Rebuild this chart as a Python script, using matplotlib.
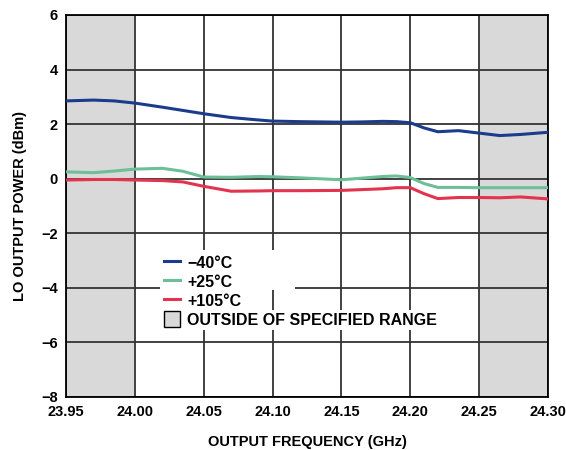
import matplotlib.pyplot as plt
from matplotlib.patches import Patch, Rectangle
from matplotlib.lines import Line2D

plt.rcParams['font.family'] = ['Liberation Sans', 'DejaVu Sans']
plt.rcParams['font.weight'] = 'bold'

freq = [23.95, 23.97, 23.985, 24.00, 24.02, 24.035, 24.05, 24.07, 24.09, 24.10, 24.12, 24.15,
        24.165, 24.18, 24.19, 24.20, 24.21, 24.22, 24.235, 24.25, 24.265, 24.28, 24.30]
t_m40 = [2.85, 2.88, 2.85, 2.77, 2.62, 2.50, 2.38, 2.24, 2.15, 2.11, 2.09, 2.07,
         2.08, 2.10, 2.09, 2.05, 1.86, 1.72, 1.76, 1.67, 1.58, 1.62, 1.70]
t_p25 = [0.25, 0.22, 0.28, 0.35, 0.38, 0.27, 0.06, 0.05, 0.08, 0.07, 0.03, -0.04,
         0.02, 0.08, 0.10, 0.04, -0.18, -0.32, -0.32, -0.33, -0.33, -0.33, -0.33]
t_p105 = [-0.05, -0.03, -0.03, -0.05, -0.07, -0.12, -0.28, -0.46, -0.45, -0.44, -0.44, -0.43,
          -0.40, -0.37, -0.33, -0.33, -0.55, -0.73, -0.69, -0.69, -0.70, -0.67, -0.74]
labels = ['\u221240\u00b0C', '+25\u00b0C', '+105\u00b0C']
colors = ['#1b3c8c', '#6cbf96', '#e2334f']
spec_lo, spec_hi = 24.00, 24.25

fig = plt.figure(figsize=(5.66, 4.5), dpi=100)
ax = fig.add_axes([0.1166, 0.1178, 0.8516, 0.849])

ax.axvspan(23.95, spec_lo, color='#d9d9d9', zorder=0, lw=0)
ax.axvspan(spec_hi, 24.30, color='#d9d9d9', zorder=0, lw=0)

for ys, c in zip([t_m40, t_p25, t_p105], colors):
    ax.plot(freq, ys, color=c, lw=2.2, zorder=3, solid_joinstyle='round')

ax.set_xlim(23.95, 24.30)
ax.set_ylim(-8, 6)
ax.set_xticks([23.95, 24.00, 24.05, 24.10, 24.15, 24.20, 24.25, 24.30])
ax.set_xticklabels(['23.95', '24.00', '24.05', '24.10', '24.15', '24.20', '24.25', '24.30'])
ax.set_yticks(range(-8, 7, 2))
ax.set_yticklabels(['\u22128', '\u22126', '\u22124', '\u22122', '0', '2', '4', '6'])
ax.grid(True, color='#333333', lw=1.3, zorder=1)
ax.set_axisbelow(True)
for s in ax.spines.values():
    s.set_color('black')
    s.set_linewidth(1.3)
ax.tick_params(length=0, labelsize=10.5, pad=6)
ax.set_xlabel('OUTPUT FREQUENCY (GHz)', fontsize=10.5, fontweight='bold', labelpad=11)
ax.set_ylabel('LO OUTPUT POWER (dBm)', fontsize=10.5, fontweight='bold', labelpad=10)

# white patch behind the legend rows (grid hidden there)
ax.add_patch(Rectangle((0.195, 0.28), 0.28, 0.105, transform=ax.transAxes,
                       facecolor='white', edgecolor='none', zorder=2))

handles = [Line2D([], [], color=c, lw=2.2) for c in colors]
handles.append(Patch(facecolor='#d9d9d9', edgecolor='black', lw=1))
leg = ax.legend(handles, labels + ['OUTSIDE OF SPECIFIED RANGE'],
                loc='upper left', bbox_to_anchor=(0.2, 0.378), frameon=False,
                fontsize=11.5, handlelength=1.0, handleheight=1.2, handletextpad=0.45,
                labelspacing=0.15, borderpad=0.1, borderaxespad=0)
for t in leg.get_texts():
    t.set_bbox(dict(facecolor='white', edgecolor='none', pad=2))
leg.set_zorder(5)

fig.savefig('out.png', dpi=100)
